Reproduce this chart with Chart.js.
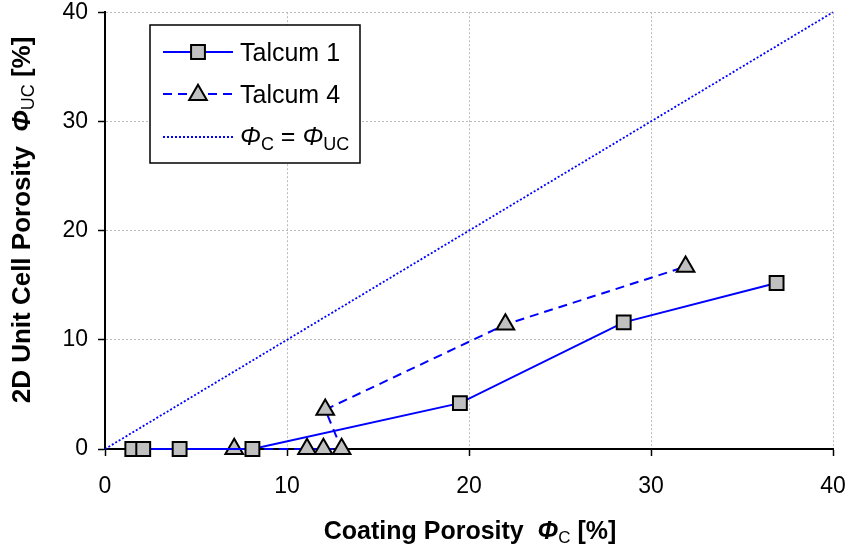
<!DOCTYPE html>
<html>
<head>
<meta charset="utf-8">
<script src="https://cdn.jsdelivr.net/npm/chart.js@4.4.1/dist/chart.umd.min.js"></script>
<style>
  html, body { margin: 0; padding: 0; background: #fff; }
  #wrap { width: 847px; height: 560px; }
</style>
</head>
<body>
<div id="wrap"><canvas id="porosity-chart" width="847" height="560"></canvas></div>
<script>
// Talcum 1 (solid line, squares)
const talcum1X = [1.5, 2.1, 4.1, 8.1, 19.5, 28.5, 36.9];
const talcum1Y = [0, 0, 0, 0, 4.2, 11.6, 15.2];

// Talcum 4 (dashed line, triangles), in measurement order
const talcum4X = [7.1, 11.1, 12.0, 13.0, 12.1, 22.0, 31.9];
const talcum4Y = [0, 0, 0, 0, 3.6, 11.4, 16.7];

// Reference line phi_C = phi_UC
const diagX = [0, 40];
const diagY = [0, 40];

const axisTicks = [0, 10, 20, 30, 40];

const FONT = '"Liberation Sans", Arial, sans-serif';
const BLUE = '#0000ff';
const MARKER_FILL = '#c0c0c0';
const SQUARE_R = 9.8;
const TRIANGLE_R = 10.2;
const DASH = [9, 6];
const DOTS = [2, 2];

function toPoints(xs, ys) {
  return xs.map((x, i) => ({ x: x, y: ys[i] }));
}

// Text made of several pieces, some of them lowered as subscripts
function richWidth(ctx, parts) {
  let w = 0;
  parts.forEach(p => {
    ctx.font = p.font;
    w += ctx.measureText(p.text).width;
  });
  return w;
}

function drawRich(ctx, parts, x, y) {
  let cx = x;
  parts.forEach(p => {
    ctx.font = p.font;
    ctx.fillText(p.text, cx, y + (p.sub || 0));
    cx += ctx.measureText(p.text).width;
  });
}

const xTitle = [
  { text: 'Coating Porosity  ', font: 'bold 25px ' + FONT },
  { text: 'Φ', font: 'italic bold 25px ' + FONT },
  { text: 'C', font: '17px ' + FONT, sub: 4 },
  { text: ' [%]', font: 'bold 25px ' + FONT }
];

const yTitle = [
  { text: '2D Unit Cell Porosity  ', font: 'bold 26px ' + FONT },
  { text: 'Φ', font: 'italic bold 26px ' + FONT },
  { text: 'UC', font: '18px ' + FONT, sub: 4 },
  { text: ' [%]', font: 'bold 26px ' + FONT }
];

const diagLabel = [
  { text: 'Φ', font: 'italic 25px ' + FONT },
  { text: 'C', font: '18px ' + FONT, sub: 5 },
  { text: ' = ', font: '25px ' + FONT },
  { text: 'Φ', font: 'italic 25px ' + FONT },
  { text: 'UC', font: '18px ' + FONT, sub: 5 }
];

function marker(ctx, style, radius, x, y) {
  ctx.save();
  ctx.setLineDash([]);
  ctx.fillStyle = MARKER_FILL;
  ctx.strokeStyle = '#000';
  ctx.lineWidth = 2;
  Chart.helpers.drawPoint(ctx, { pointStyle: style, radius: radius, borderWidth: 2, rotation: 0 }, x, y);
  ctx.restore();
}

function sampleLine(ctx, y, width, dash) {
  ctx.save();
  ctx.strokeStyle = BLUE;
  ctx.lineWidth = width;
  ctx.setLineDash(dash);
  ctx.beginPath();
  ctx.moveTo(163, y);
  ctx.lineTo(233, y);
  ctx.stroke();
  ctx.restore();
}

// Axis titles and the boxed legend
const decorations = {
  id: 'decorations',
  afterDraw(chart) {
    const ctx = chart.ctx;
    ctx.save();
    ctx.fillStyle = '#000';
    ctx.textBaseline = 'alphabetic';

    // x title
    const xw = richWidth(ctx, xTitle);
    drawRich(ctx, xTitle, 470 - xw / 2, 539);

    // y title, rotated
    ctx.save();
    ctx.translate(30, 220);
    ctx.rotate(-Math.PI / 2);
    const yw = richWidth(ctx, yTitle);
    drawRich(ctx, yTitle, -yw / 2, 0);
    ctx.restore();

    // legend box
    const box = { x: 150, y: 25, w: 210, h: 138 };
    ctx.fillStyle = '#fff';
    ctx.fillRect(box.x, box.y, box.w, box.h);
    ctx.strokeStyle = '#000';
    ctx.lineWidth = 1.5;
    ctx.strokeRect(box.x, box.y, box.w, box.h);

    const rows = [52, 94, 137];

    sampleLine(ctx, rows[0], 2, []);
    marker(ctx, 'rect', SQUARE_R, 198, rows[0]);

    sampleLine(ctx, rows[1], 2, DASH);
    marker(ctx, 'triangle', TRIANGLE_R, 198, rows[1] + 1);

    sampleLine(ctx, rows[2], 1.8, DOTS);

    ctx.fillStyle = '#000';
    ctx.font = '25px ' + FONT;
    ctx.fillText('Talcum 1', 240, rows[0] + 9);
    ctx.fillText('Talcum 4', 240, rows[1] + 9);
    drawRich(ctx, diagLabel, 240, rows[2] + 8);

    ctx.restore();
  }
};

function gridColor(ctx) {
  return ctx.tick && ctx.tick.value === 0 ? 'rgba(0,0,0,0)' : '#bcbcbc';
}

// keep the plot area fixed: no extra room for overhanging tick labels
function fixX(scale) {
  scale.height = 111;
  scale.paddingLeft = 0;
  scale.paddingRight = 0;
}
function fixY(scale) {
  scale.width = 105;
  scale.paddingTop = 0;
  scale.paddingBottom = 0;
}

const ctx = document.getElementById('porosity-chart').getContext('2d');

const markerStyle = {
  pointBackgroundColor: MARKER_FILL,
  pointBorderColor: '#000',
  pointBorderWidth: 2
};

new Chart(ctx, {
  type: 'scatter',
  data: {
    datasets: [
      Object.assign({
        label: 'Talcum 1',
        data: toPoints(talcum1X, talcum1Y),
        showLine: true,
        borderColor: BLUE,
        borderWidth: 2,
        pointStyle: 'rect',
        pointRadius: SQUARE_R,
        pointHoverRadius: SQUARE_R
      }, markerStyle),
      Object.assign({
        label: 'Talcum 4',
        data: toPoints(talcum4X, talcum4Y),
        showLine: true,
        borderColor: BLUE,
        borderWidth: 2,
        borderDash: DASH,
        pointStyle: 'triangle',
        pointRadius: TRIANGLE_R,
        pointHoverRadius: TRIANGLE_R
      }, markerStyle),
      {
        label: 'ΦC = ΦUC',
        data: toPoints(diagX, diagY),
        showLine: true,
        borderColor: BLUE,
        borderWidth: 1.8,
        borderDash: DOTS,
        pointRadius: 0
      }
    ]
  },
  options: {
    responsive: false,
    animation: false,
    devicePixelRatio: 1,
    clip: false,
    layout: { padding: { top: 12, right: 14, left: 0, bottom: 0 } },
    plugins: {
      legend: { display: false },
      tooltip: { enabled: false }
    },
    scales: {
      x: {
        type: 'linear',
        min: 0,
        max: 40,
        afterFit: fixX,
        afterBuildTicks: scale => { scale.ticks = axisTicks.map(v => ({ value: v })); },
        ticks: {
          color: '#000',
          font: { family: FONT, size: 23 },
          padding: 17
        },
        grid: {
          color: gridColor,
          lineWidth: 1,
          tickColor: '#000',
          tickLength: 7,
          tickWidth: 1.5
        },
        border: { display: true, color: '#000', width: 2, dash: [2, 2] }
      },
      y: {
        type: 'linear',
        min: 0,
        max: 40,
        afterFit: fixY,
        afterBuildTicks: scale => { scale.ticks = axisTicks.map(v => ({ value: v })); },
        ticks: {
          color: '#000',
          font: { family: FONT, size: 23 },
          padding: 10
        },
        grid: {
          color: gridColor,
          lineWidth: 1,
          tickColor: '#000',
          tickLength: 7,
          tickWidth: 1.5
        },
        border: { display: true, color: '#000', width: 2, dash: [2, 2] }
      }
    }
  },
  plugins: [decorations]
});
</script>
</body>
</html>
